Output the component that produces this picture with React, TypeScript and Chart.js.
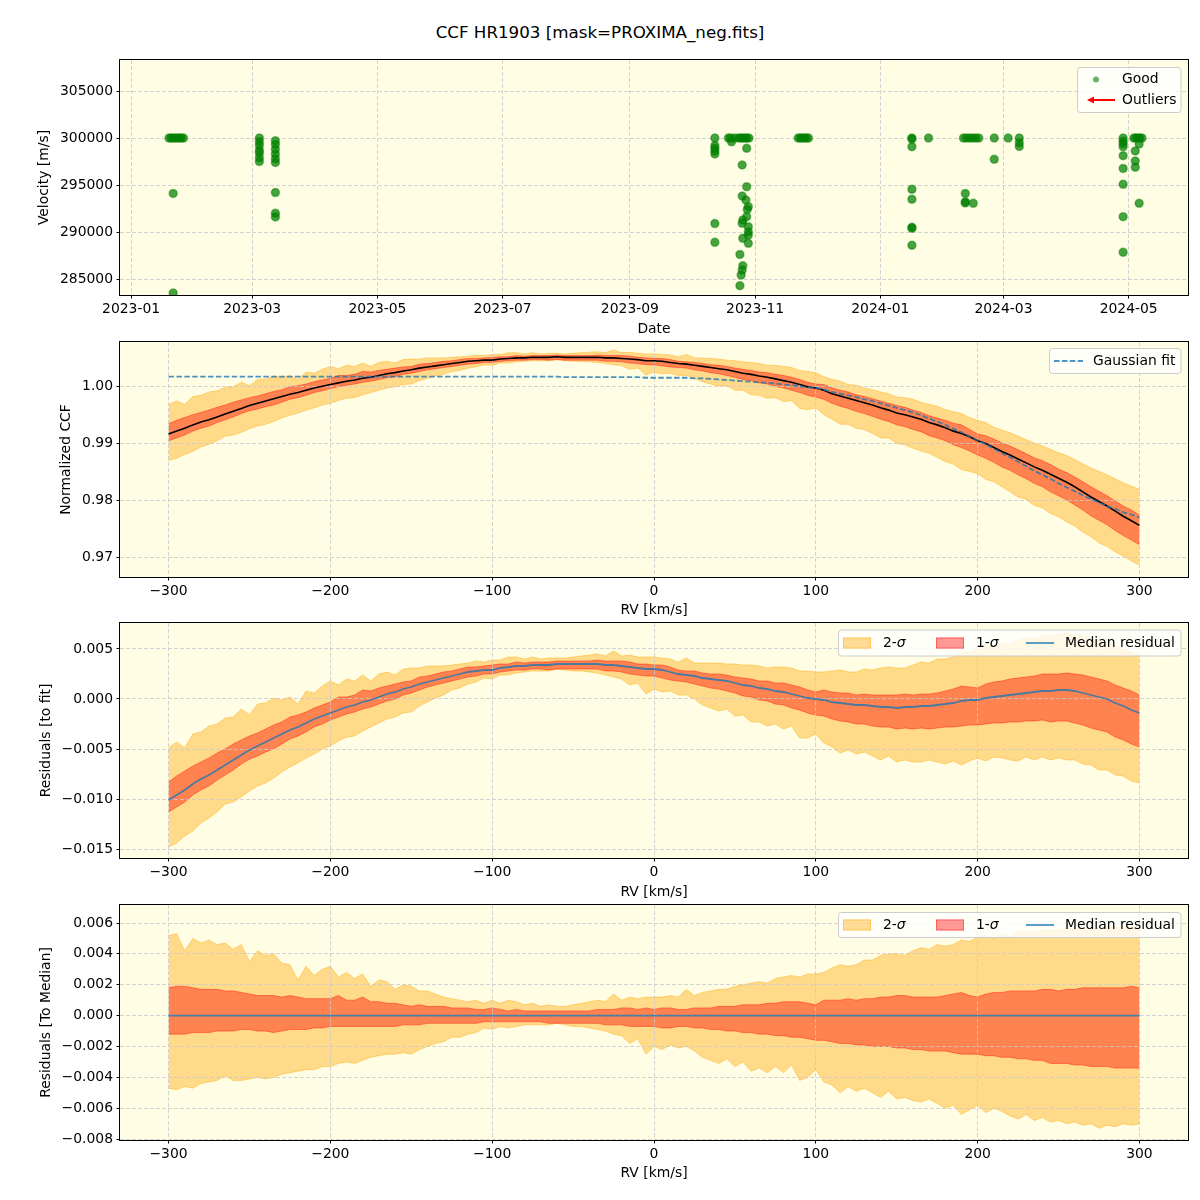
import React, { useEffect, useRef } from 'react';
import { Chart, registerables } from 'chart.js';
Chart.register(...registerables);

const FONT_FAMILY = "'DejaVu Sans', sans-serif";
const FS = 13.9;
const BG = '#fffde3';
const GRID = 'rgba(200,200,205,0.8)';

// ---------- top panel: velocities ----------
const MONTH_TICKS = [0, 59, 120, 181, 243, 304, 365, 425, 486];
const MONTH_LABELS = ['2023-01', '2023-03', '2023-05', '2023-07', '2023-09', '2023-11', '2024-01', '2024-03', '2024-05'];
const VEL_TICKS = [285000, 290000, 295000, 300000, 305000];

// days since 2023-01-01
const GOOD_DAY = [
  18.5, 19.5, 20.5, 21.5, 22.5, 23.5, 24.5, 25.5, 20.5, 20.5,
  62.5, 62.5, 62.5, 62.5, 62.5, 62.5, 62.5,
  70.3, 70.3, 70.3, 70.3, 70.3, 70.3, 70.3, 70.3, 70.3,
  284.4, 284.4, 284.4, 284.4, 284.4, 284.4, 284.4,
  291, 292, 294, 296, 297, 298, 299, 300, 301, 292.5,
  299.9, 297.7, 299.9, 297.7, 299.5, 300.7, 300.2, 299.9, 298, 297.7,
  300.7, 300.7, 300.7, 298, 300.7, 296.6, 298, 297.7, 297.2, 296.6,
  325, 326, 327, 328, 329, 330,
  380.4, 380.4, 380.4, 380.4, 380.4, 380.4, 380.4, 380.4,
  388.5,
  405.5, 407, 408.5, 410, 411.5, 413, 406.4, 406.4, 406.4, 410.3,
  420.5, 420.5, 427.3, 432.7, 432.7, 432.7,
  483.3, 483.3, 483.3, 483.3, 483.3, 483.3, 483.3, 483.3, 483.3,
  488.5, 489.5, 490.5, 491.5, 492.5,
  491.1, 489.2, 489.2, 489.2, 491.1,
];
const GOOD_VEL = [
  300000, 300000, 300000, 300000, 300000, 300000, 300000, 300000, 294100, 283500,
  300000, 299600, 299200, 298700, 298400, 297900, 297500,
  299700, 299300, 298800, 298300, 297800, 297400, 294200, 292000, 291600,
  300000, 299200, 298900, 298600, 298300, 290900, 288900,
  300000, 300000, 300000, 300000, 300000, 300000, 300000, 300000, 300000, 299600,
  298900, 297130, 294820, 293830, 293400, 292700, 292400, 291630, 291270, 290920,
  290560, 290030, 289680, 289330, 288800, 287620, 286410, 285950, 285420, 284290,
  300000, 300000, 300000, 300000, 300000, 300000,
  300000, 299900, 299080, 294540, 293480, 290500, 290390, 288580,
  300000,
  300000, 300000, 300000, 300000, 300000, 300000, 294100, 293220, 293100, 293050,
  300000, 297730, 300000, 300000, 299500, 299100,
  300000, 299650, 299400, 299080, 298120, 296770, 295070, 291630, 287840,
  300000, 300000, 300000, 300000, 300000,
  299360, 298620, 297550, 296880, 293050,
];

// ---------- CCF panels ----------
const RV_TICKS = [-300, -200, -100, 0, 100, 200, 300];
const CCF_TICKS = [0.97, 0.98, 0.99, 1.0];
const RES_TICKS = [-0.015, -0.01, -0.005, 0.0, 0.005];
const MED_TICKS = [-0.008, -0.006, -0.004, -0.002, 0.0, 0.002, 0.004, 0.006];

const RV = [
  -300, -295, -290, -285, -280, -275, -270, -265, -260, -255,
  -250, -245, -240, -235, -230, -225, -220, -215, -210, -205,
  -200, -195, -190, -185, -180, -175, -170, -165, -160, -155,
  -150, -145, -140, -135, -130, -125, -120, -115, -110, -105,
  -100, -95, -90, -85, -80, -75, -70, -65, -60, -55,
  -50, -45, -40, -35, -30, -25, -20, -15, -10, -5,
  0, 5, 10, 15, 20, 25, 30, 35, 40, 45,
  50, 55, 60, 65, 70, 75, 80, 85, 90, 95,
  100, 105, 110, 115, 120, 125, 130, 135, 140, 145,
  150, 155, 160, 165, 170, 175, 180, 185, 190, 195,
  200, 205, 210, 215, 220, 225, 230, 235, 240, 245,
  250, 255, 260, 265, 270, 275, 280, 285, 290, 295,
  300,
];

const CCF_MEDIAN = [
  0.9917, 0.9922, 0.9927, 0.9933, 0.9938, 0.9942, 0.9947, 0.9952, 0.9957, 0.9962,
  0.9967, 0.9971, 0.9975, 0.9979, 0.9983, 0.9987, 0.999, 0.9994, 0.9998, 1.0001,
  1.0004, 1.0007, 1.001, 1.0012, 1.0015, 1.0017, 1.002, 1.0023, 1.0025, 1.0028,
  1.003, 1.0033, 1.0035, 1.0037, 1.0039, 1.0041, 1.0043, 1.0045, 1.0046, 1.0047,
  1.0047, 1.0049, 1.005, 1.0051, 1.0051, 1.0052, 1.0052, 1.0052, 1.0053, 1.0052,
  1.0052, 1.0052, 1.0052, 1.0052, 1.0051, 1.0051, 1.005, 1.0049, 1.0048, 1.0046,
  1.0046, 1.0045, 1.0043, 1.0041, 1.004, 1.0038, 1.0036, 1.0034, 1.0032, 1.003,
  1.0027, 1.0024, 1.0022, 1.0019, 1.0017, 1.0014, 1.0011, 1.0008, 1.0004, 1.0,
  0.9998, 0.9994, 0.9988, 0.9984, 0.998, 0.9976, 0.9972, 0.9968, 0.9963, 0.9959,
  0.9954, 0.9951, 0.9947, 0.9943, 0.9937, 0.9933, 0.9928, 0.9922, 0.9918, 0.9912,
  0.9905, 0.99, 0.9893, 0.9886, 0.988, 0.9873, 0.9866, 0.9859, 0.9853, 0.9846,
  0.9839, 0.9832, 0.9824, 0.9815, 0.9806, 0.9798, 0.979, 0.9781, 0.9772, 0.9764,
  0.9756,
];

const GAUSS_FIT = [
  1.0018, 1.0018, 1.0018, 1.0018, 1.0018, 1.0018, 1.0018, 1.0018, 1.0018, 1.0018,
  1.0018, 1.0018, 1.0018, 1.0018, 1.0018, 1.0018, 1.0018, 1.0018, 1.0018, 1.0018,
  1.0018, 1.0018, 1.0018, 1.0018, 1.0018, 1.0018, 1.0018, 1.0018, 1.0018, 1.0018,
  1.0018, 1.0018, 1.0018, 1.0018, 1.0018, 1.0018, 1.0018, 1.0018, 1.0018, 1.0018,
  1.0018, 1.0018, 1.0018, 1.0018, 1.0018, 1.0018, 1.0018, 1.0018, 1.0018, 1.0017,
  1.0017, 1.0017, 1.0017, 1.0017, 1.0017, 1.0017, 1.0017, 1.0017, 1.0017, 1.0016,
  1.0016, 1.0016, 1.0016, 1.0016, 1.0016, 1.0015, 1.0015, 1.0014, 1.0013, 1.0012,
  1.0011, 1.001, 1.0009, 1.0008, 1.0007, 1.0006, 1.0004, 1.0003, 1.0001, 0.9999,
  0.9998, 0.9995, 0.9991, 0.9988, 0.9985, 0.9982, 0.9978, 0.9975, 0.9971, 0.9967,
  0.9963, 0.9959, 0.9955, 0.995, 0.9944, 0.9939, 0.9933, 0.9926, 0.992, 0.9913,
  0.9906, 0.9899, 0.9891, 0.9883, 0.9876, 0.9868, 0.986, 0.9852, 0.9845, 0.9838,
  0.983, 0.9823, 0.9816, 0.9809, 0.9802, 0.9796, 0.979, 0.9785, 0.9779, 0.9775,
  0.977,
];

const RESID_MEDIAN = [
  -0.0101, -0.0096, -0.0091, -0.0085, -0.008, -0.0076, -0.0071, -0.0066, -0.0061, -0.0056,
  -0.0051, -0.0047, -0.0043, -0.0039, -0.0035, -0.0031, -0.0028, -0.0024, -0.002, -0.0017,
  -0.0014, -0.0011, -0.0008, -0.0006, -0.0003, -0.0001, 0.0002, 0.0005, 0.0007, 0.001,
  0.0012, 0.0015, 0.0017, 0.0019, 0.0021, 0.0023, 0.0025, 0.0027, 0.0028, 0.0029,
  0.0029, 0.0031, 0.0032, 0.0033, 0.0033, 0.0034, 0.0034, 0.0034, 0.0035, 0.0035,
  0.0035, 0.0035, 0.0035, 0.0035, 0.0034, 0.0034, 0.0033, 0.0032, 0.0031, 0.003,
  0.003, 0.0029, 0.0027, 0.0025, 0.0024, 0.0023, 0.0021, 0.002, 0.0019, 0.0018,
  0.0016, 0.0014, 0.0013, 0.0011, 0.001, 0.0008, 0.0007, 0.0005, 0.0003, 0.0001,
  0.0, -0.0001, -0.0003, -0.0004, -0.0005, -0.0006, -0.0006, -0.0007, -0.0008, -0.0008,
  -0.0009, -0.0008, -0.0008, -0.0007, -0.0007, -0.0006, -0.0005, -0.0004, -0.0002, -0.0001,
  -0.0001, 0.0001, 0.0002, 0.0003, 0.0004, 0.0005, 0.0006, 0.0007, 0.0008, 0.0008,
  0.0009, 0.0009, 0.0008, 0.0006, 0.0004, 0.0002, 0.0, -0.0004, -0.0007, -0.0011,
  -0.0014,
];

// band edges relative to the median
const SIG2_HI = [
  0.0052, 0.0053, 0.0042, 0.005, 0.0047, 0.0049, 0.0046, 0.0047, 0.0043, 0.0046,
  0.0035, 0.0042, 0.0039, 0.004, 0.0034, 0.0033, 0.0023, 0.0032, 0.0026, 0.003,
  0.0032, 0.0025, 0.0028, 0.0024, 0.0027, 0.0019, 0.0023, 0.0022, 0.0017, 0.002,
  0.0019, 0.0016, 0.0016, 0.0014, 0.0012, 0.0011, 0.001, 0.0009, 0.001, 0.0008,
  0.001, 0.0008, 0.001, 0.0009, 0.0007, 0.0008, 0.0006, 0.0007, 0.0006, 0.0006,
  0.0007, 0.0008, 0.0009, 0.001, 0.0009, 0.0014, 0.001, 0.0012, 0.0011, 0.0012,
  0.0012, 0.0012, 0.0013, 0.0012, 0.0017, 0.0013, 0.0015, 0.0016, 0.0017, 0.0017,
  0.0019, 0.002, 0.0021, 0.0022, 0.0021, 0.0024, 0.0025, 0.0026, 0.0025, 0.0027,
  0.0027, 0.0028, 0.0031, 0.0033, 0.0032, 0.0033, 0.0036, 0.0036, 0.0039, 0.004,
  0.004, 0.0039, 0.0042, 0.0044, 0.0043, 0.0046, 0.0045, 0.0046, 0.0049, 0.0048,
  0.0051, 0.0052, 0.005, 0.0053, 0.0051, 0.0054, 0.0055, 0.0054, 0.0055, 0.0056,
  0.0055, 0.0057, 0.0056, 0.0057, 0.0056, 0.0057, 0.0058, 0.0057, 0.0058, 0.0057,
  0.0058,
];
const SIG1_HI = [
  0.0018, 0.0019, 0.0019, 0.0018, 0.0017, 0.0017, 0.0017, 0.0016, 0.0016, 0.0015,
  0.0014, 0.0013, 0.0013, 0.0013, 0.0012, 0.0013, 0.0012, 0.0011, 0.0011, 0.0011,
  0.0011, 0.0013, 0.001, 0.001, 0.0012, 0.0009, 0.0009, 0.0008, 0.0008, 0.0007,
  0.0006, 0.0007, 0.0006, 0.0006, 0.0006, 0.0005, 0.0005, 0.0005, 0.0004, 0.0004,
  0.0005, 0.0004, 0.0003, 0.0004, 0.0003, 0.0003, 0.0003, 0.0003, 0.0003, 0.0003,
  0.0003, 0.0003, 0.0003, 0.0004, 0.0004, 0.0004, 0.0005, 0.0005, 0.0004, 0.0005,
  0.0004, 0.0005, 0.0005, 0.0004, 0.0004, 0.0005, 0.0005, 0.0005, 0.0006, 0.0006,
  0.0006, 0.0007, 0.0007, 0.0007, 0.0008, 0.0008, 0.0009, 0.0009, 0.0009, 0.0008,
  0.0007, 0.001, 0.001, 0.001, 0.0011, 0.001, 0.0011, 0.0011, 0.0012, 0.0012,
  0.0013, 0.0013, 0.0012, 0.0012, 0.0012, 0.0012, 0.0013, 0.0014, 0.0015, 0.0013,
  0.0012, 0.0014, 0.0015, 0.0015, 0.0016, 0.0016, 0.0016, 0.0016, 0.0017, 0.0017,
  0.0016, 0.0017, 0.0017, 0.0018, 0.0018, 0.0018, 0.0018, 0.0018, 0.0018, 0.0019,
  0.0018,
];
const SIG1_LO = [
  -0.0012, -0.0012, -0.0012, -0.0011, -0.0011, -0.0011, -0.001, -0.001, -0.001, -0.0009,
  -0.0009, -0.001, -0.001, -0.0011, -0.001, -0.0009, -0.0009, -0.0009, -0.0008, -0.0008,
  -0.0007, -0.0007, -0.0007, -0.0007, -0.0007, -0.0007, -0.0007, -0.0007, -0.0007, -0.0006,
  -0.0006, -0.0006, -0.0005, -0.0005, -0.0005, -0.0005, -0.0005, -0.0005, -0.0005, -0.0004,
  -0.0004, -0.0004, -0.0004, -0.0004, -0.0004, -0.0004, -0.0004, -0.0005, -0.0005, -0.0005,
  -0.0005, -0.0005, -0.0005, -0.0005, -0.0006, -0.0006, -0.0006, -0.0007, -0.0007, -0.0007,
  -0.0007, -0.0008, -0.0008, -0.0007, -0.0007, -0.0008, -0.0008, -0.0009, -0.0009, -0.001,
  -0.001, -0.0011, -0.0011, -0.0012, -0.0012, -0.0013, -0.0013, -0.0014, -0.0014, -0.0015,
  -0.0016, -0.0016, -0.0017, -0.0018, -0.0018, -0.0019, -0.0019, -0.002, -0.002, -0.002,
  -0.0021, -0.0021, -0.0022, -0.0022, -0.0023, -0.0023, -0.0023, -0.0024, -0.0025, -0.0025,
  -0.0025, -0.0026, -0.0026, -0.0027, -0.0027, -0.0028, -0.0028, -0.0029, -0.0029, -0.0031,
  -0.0031, -0.0031, -0.0032, -0.0032, -0.0033, -0.0033, -0.0033, -0.0034, -0.0034, -0.0034,
  -0.0034,
];
const SIG2_LO = [
  -0.0047, -0.0048, -0.0046, -0.0047, -0.0044, -0.0043, -0.0042, -0.0039, -0.0042, -0.0042,
  -0.0041, -0.004, -0.0041, -0.004, -0.0038, -0.0037, -0.0036, -0.0035, -0.0035, -0.0033,
  -0.0033, -0.0031, -0.003, -0.0031, -0.0029, -0.0027, -0.0026, -0.0025, -0.0025, -0.0024,
  -0.0025, -0.0022, -0.002, -0.0018, -0.0017, -0.0014, -0.0014, -0.0012, -0.0011, -0.0008,
  -0.0009, -0.0007, -0.0008, -0.0007, -0.0006, -0.0006, -0.0006, -0.0006, -0.0005, -0.0006,
  -0.0007, -0.0007, -0.0008, -0.0009, -0.001, -0.0012, -0.0013, -0.0018, -0.0015, -0.0025,
  -0.002, -0.0022, -0.0019, -0.0021, -0.002, -0.0023, -0.0027, -0.0029, -0.0031, -0.0028,
  -0.0033, -0.003, -0.0036, -0.0034, -0.0037, -0.0033, -0.0037, -0.0032, -0.0042, -0.004,
  -0.0035, -0.0043, -0.0045, -0.005, -0.0046, -0.0049, -0.0047, -0.005, -0.0053, -0.0049,
  -0.0054, -0.0053, -0.0055, -0.0056, -0.0054, -0.0057, -0.006, -0.0058, -0.0064, -0.0061,
  -0.0058, -0.0063, -0.006, -0.0062, -0.0065, -0.0067, -0.0064, -0.0068, -0.0066, -0.0069,
  -0.0068, -0.007, -0.0069, -0.0071, -0.007, -0.0073, -0.0071, -0.0072, -0.007, -0.0071,
  -0.007,
];
// upper 2-sigma edge of the CCF panel, relative to the CCF median
const CCF_SIG2_HI = [
  0.0052, 0.0053, 0.0042, 0.005, 0.0047, 0.0049, 0.0046, 0.0047, 0.0043, 0.0046,
  0.0035, 0.0042, 0.0039, 0.004, 0.0034, 0.0033, 0.0023, 0.0032, 0.0026, 0.003,
  0.0032, 0.0025, 0.0028, 0.0024, 0.0027, 0.0019, 0.0023, 0.0022, 0.0017, 0.002,
  0.0019, 0.0016, 0.0016, 0.0014, 0.0012, 0.0011, 0.001, 0.0009, 0.001, 0.0008,
  0.001, 0.0008, 0.001, 0.0009, 0.0007, 0.0008, 0.0006, 0.0007, 0.0006, 0.0006,
  0.0007, 0.0008, 0.0009, 0.001, 0.0009, 0.0014, 0.001, 0.0012, 0.0011, 0.0012,
  0.0012, 0.0012, 0.0013, 0.0012, 0.0017, 0.0013, 0.0015, 0.0016, 0.0017, 0.0017,
  0.0019, 0.002, 0.0021, 0.0022, 0.0021, 0.0024, 0.0025, 0.0026, 0.0025, 0.0027,
  0.0027, 0.0024, 0.0025, 0.0026, 0.0024, 0.0027, 0.0026, 0.0027, 0.0028, 0.0029,
  0.0028, 0.003, 0.0031, 0.003, 0.0032, 0.0033, 0.0032, 0.0034, 0.0035, 0.0034,
  0.0036, 0.0037, 0.0036, 0.0038, 0.0039, 0.004, 0.0041, 0.0042, 0.0043, 0.0044,
  0.0045, 0.0047, 0.0048, 0.0049, 0.0051, 0.0053, 0.0055, 0.0057, 0.0059, 0.0061,
  0.0063,
];
// median of residuals to the median (flat at zero)
const ZERO_RV = [-300, 300];
const ZERO_VAL = [0, 0];

// ---------- helpers ----------
const pts = (xs: number[], ys: number[]) => xs.map((x, i) => ({ x, y: ys[i] }));
const addArr = (a: number[], b: number[]) => a.map((v, i) => v + b[i]);
const signed = (v: number, d: number) => (v < -1e-12 ? '\u2212' : '') + Math.abs(v).toFixed(d);

const C_2S = 'rgba(255,165,0,0.4)';
const C_1S = 'rgba(255,0,0,0.4)';
const C_BLUE = 'rgba(31,119,180,0.8)';

type LegendItem = {
  kind: 'dot' | 'arrow' | 'dash' | 'line' | 'patch';
  color: string;
  x0: number;
  x1: number;
  y: number;
  text: string;
  tx: number;
  sigma?: boolean;
};
type LegendSpec = { box: [number, number, number, number]; items: LegendItem[] };

function roundRect(ctx: CanvasRenderingContext2D, x: number, y: number, w: number, h: number, r: number) {
  ctx.beginPath();
  ctx.moveTo(x + r, y);
  ctx.lineTo(x + w - r, y);
  ctx.arcTo(x + w, y, x + w, y + r, r);
  ctx.lineTo(x + w, y + h - r);
  ctx.arcTo(x + w, y + h, x + w - r, y + h, r);
  ctx.lineTo(x + r, y + h);
  ctx.arcTo(x, y + h, x, y + h - r, r);
  ctx.lineTo(x, y + r);
  ctx.arcTo(x, y, x + r, y, r);
  ctx.closePath();
}

function drawLegend(ctx: CanvasRenderingContext2D, top: number, spec: LegendSpec) {
  const [bx0, by0, bx1, by1] = spec.box;
  ctx.save();
  roundRect(ctx, bx0, by0 - top, bx1 - bx0, by1 - by0, 3);
  ctx.fillStyle = 'rgba(255,255,255,0.8)';
  ctx.fill();
  ctx.strokeStyle = '#cccccc';
  ctx.lineWidth = 1;
  ctx.stroke();
  for (const it of spec.items) {
    const y = it.y - top;
    ctx.setLineDash([]);
    if (it.kind === 'dot') {
      ctx.beginPath();
      ctx.arc(it.x0, y, 3, 0, Math.PI * 2);
      ctx.fillStyle = it.color;
      ctx.fill();
    } else if (it.kind === 'arrow') {
      ctx.strokeStyle = it.color;
      ctx.lineWidth = 2;
      ctx.beginPath();
      ctx.moveTo(it.x1, y);
      ctx.lineTo(it.x0 + 5, y);
      ctx.stroke();
      ctx.beginPath();
      ctx.moveTo(it.x0, y);
      ctx.lineTo(it.x0 + 7, y - 3.5);
      ctx.lineTo(it.x0 + 7, y + 3.5);
      ctx.closePath();
      ctx.fillStyle = it.color;
      ctx.fill();
    } else if (it.kind === 'dash' || it.kind === 'line') {
      ctx.strokeStyle = it.color;
      ctx.lineWidth = 1.8;
      if (it.kind === 'dash') ctx.setLineDash([5.5, 2.4]);
      ctx.beginPath();
      ctx.moveTo(it.x0, y);
      ctx.lineTo(it.x1, y);
      ctx.stroke();
      ctx.setLineDash([]);
    } else if (it.kind === 'patch') {
      ctx.fillStyle = it.color;
      ctx.fillRect(it.x0, y - 5.5, it.x1 - it.x0, 11);
      ctx.strokeStyle = it.color;
      ctx.lineWidth = 1;
      ctx.strokeRect(it.x0 + 0.5, y - 5, it.x1 - it.x0 - 1, 10);
    }
    ctx.fillStyle = '#000';
    ctx.textBaseline = 'middle';
    ctx.textAlign = 'left';
    ctx.font = `${FS}px ${FONT_FAMILY}`;
    ctx.fillText(it.text, it.tx, y);
    if (it.sigma) {
      const w = ctx.measureText(it.text).width;
      ctx.font = `italic ${FS}px ${FONT_FAMILY}`;
      ctx.fillText('\u03c3', it.tx + w, y);
    }
  }
  ctx.restore();
}

// background, top lines drawn above the grid (once), axes frame and legend
function framePlugin(top: number, legend: LegendSpec, topLines: number[]) {
  return {
    id: 'frameLegend',
    beforeDraw(chart: any) {
      const { ctx, chartArea: a } = chart;
      ctx.save();
      ctx.fillStyle = BG;
      ctx.fillRect(a.left, a.top, a.right - a.left, a.bottom - a.top);
      ctx.restore();
    },
    beforeDatasetDraw(_chart: any, args: any) {
      if (topLines.includes(args.index)) return false;
      return true;
    },
    afterDraw(chart: any) {
      const { ctx, chartArea: a } = chart;
      for (const idx of topLines) {
        const meta = chart.getDatasetMeta(idx);
        ctx.save();
        ctx.beginPath();
        ctx.rect(a.left, a.top, a.right - a.left, a.bottom - a.top);
        ctx.clip();
        meta.dataset.draw(ctx, a);
        ctx.restore();
      }
      ctx.save();
      ctx.strokeStyle = '#000';
      ctx.lineWidth = 1;
      ctx.setLineDash([]);
      ctx.strokeRect(a.left - 0.5, a.top - 0.5, a.right - a.left + 1, a.bottom - a.top + 1);
      ctx.restore();
      drawLegend(ctx, top, legend);
    },
  };
}

type PanelCfg = {
  xMin: number; xMax: number; xTicks: number[]; xFmt: (v: number) => string; xTitle: string;
  yMin: number; yMax: number; yTicks: number[]; yFmt: (v: number) => string; yTitle: string; yTitlePad: number;
  padTop: number; padBottom: number; axisH: number; gridZ: number;
};

function makeOptions(p: PanelCfg) {
  const font = { family: FONT_FAMILY, size: FS };
  const grid = {
    color: GRID, lineWidth: 1, tickColor: '#000', tickLength: 3.5, tickWidth: 1, drawTicks: true, z: p.gridZ,
  };
  return {
    responsive: false,
    animation: false,
    devicePixelRatio: 1,
    layout: { padding: { left: 0, right: 12, top: p.padTop, bottom: p.padBottom } },
    plugins: { legend: { display: false }, tooltip: { enabled: false }, title: { display: false } },
    elements: { point: { radius: 0 }, line: { tension: 0 } },
    scales: {
      x: {
        type: 'linear',
        min: p.xMin,
        max: p.xMax,
        afterBuildTicks: (s: any) => { s.ticks = p.xTicks.map((v) => ({ value: v })); },
        afterFit: (s: any) => { s.height = p.axisH; s.paddingLeft = 0; s.paddingRight = 0; },
        ticks: { callback: (v: any) => p.xFmt(Number(v)), font, color: '#000', padding: 3, maxRotation: 0, autoSkip: false },
        grid,
        border: { display: false, dash: [4, 2] },
        title: { display: true, text: p.xTitle, font, color: '#000', padding: 0 },
      },
      y: {
        type: 'linear',
        min: p.yMin,
        max: p.yMax,
        afterBuildTicks: (s: any) => { s.ticks = p.yTicks.map((v) => ({ value: v })); },
        afterFit: (s: any) => { s.width = 120; s.paddingTop = 0; s.paddingBottom = 0; },
        ticks: { callback: (v: any) => p.yFmt(Number(v)), font, color: '#000', padding: 3.5, autoSkip: false },
        grid,
        border: { display: false, dash: [4, 2] },
        title: { display: true, text: p.yTitle, font, color: '#000', padding: { top: p.yTitlePad, bottom: 0 } },
      },
    },
  };
}

function bandDatasets(hi2: number[], lo2: number[], hi1: number[], lo1: number[]) {
  return [
    { data: pts(RV, hi2), borderColor: C_2S, backgroundColor: C_2S, borderWidth: 1, fill: '+1', order: 10, pointRadius: 0 },
    { data: pts(RV, lo2), borderColor: C_2S, backgroundColor: C_2S, borderWidth: 1, fill: false, order: 9, pointRadius: 0 },
    { data: pts(RV, hi1), borderColor: C_1S, backgroundColor: C_1S, borderWidth: 1, fill: '+1', order: 8, pointRadius: 0 },
    { data: pts(RV, lo1), borderColor: C_1S, backgroundColor: C_1S, borderWidth: 1, fill: false, order: 7, pointRadius: 0 },
  ];
}

const PANELS = [
  { top: 40, height: 300 },
  { top: 340, height: 280 },
  { top: 620, height: 282 },
  { top: 902, height: 298 },
];

function sigmaLegend(yc: number, box: [number, number, number, number]): LegendSpec {
  return {
    box,
    items: [
      { kind: 'patch', color: C_2S, x0: 843, x1: 871, y: yc, text: '2-', tx: 883, sigma: true },
      { kind: 'patch', color: C_1S, x0: 936, x1: 964, y: yc, text: '1-', tx: 976, sigma: true },
      { kind: 'line', color: C_BLUE, x0: 1026, x1: 1054, y: yc, text: 'Median residual', tx: 1065 },
    ],
  };
}

export default function App() {
  const r1 = useRef<HTMLCanvasElement>(null);
  const r2 = useRef<HTMLCanvasElement>(null);
  const r3 = useRef<HTMLCanvasElement>(null);
  const r4 = useRef<HTMLCanvasElement>(null);

  useEffect(() => {
    const charts: Chart[] = [];
    const rvFmt = (v: number) => signed(v, 0);

    // Panel 1: velocity vs date
    charts.push(new Chart(r1.current as HTMLCanvasElement, {
      type: 'scatter',
      data: {
        datasets: [{
          data: pts(GOOD_DAY, GOOD_VEL),
          pointRadius: 4,
          pointBackgroundColor: 'rgba(0,128,0,0.72)',
          pointBorderColor: 'rgba(0,128,0,0.45)',
          pointBorderWidth: 1.5,
          backgroundColor: 'rgba(0,128,0,0.72)',
          borderColor: 'rgba(0,128,0,0.45)',
        }],
      },
      options: makeOptions({
        xMin: -5.4, xMax: 514.9, xTicks: MONTH_TICKS,
        xFmt: (v) => MONTH_LABELS[MONTH_TICKS.indexOf(v)] ?? '', xTitle: 'Date',
        yMin: 283300, yMax: 308300, yTicks: VEL_TICKS, yFmt: (v) => String(Math.round(v)),
        yTitle: 'Velocity [m/s]', yTitlePad: 35.7,
        padTop: 20, padBottom: 2, axisH: 43, gridZ: -1,
      }) as any,
      plugins: [framePlugin(PANELS[0].top, {
        box: [1077.5, 67.5, 1181, 112.5],
        items: [
          { kind: 'dot', color: 'rgba(0,128,0,0.6)', x0: 1096, x1: 1096, y: 79.5, text: 'Good', tx: 1122 },
          { kind: 'arrow', color: '#ff0000', x0: 1087, x1: 1115, y: 100, text: 'Outliers', tx: 1122 },
        ],
      }, [])],
    }));

    // Panel 2: normalized CCF
    charts.push(new Chart(r2.current as HTMLCanvasElement, {
      type: 'line',
      data: {
        datasets: [
          ...bandDatasets(
            addArr(CCF_MEDIAN, CCF_SIG2_HI), addArr(CCF_MEDIAN, SIG2_LO),
            addArr(CCF_MEDIAN, SIG1_HI), addArr(CCF_MEDIAN, SIG1_LO)),
          { data: pts(RV, CCF_MEDIAN), borderColor: '#000', borderWidth: 1.6, fill: false, order: 2, pointRadius: 0 },
          { data: pts(RV, GAUSS_FIT), borderColor: C_BLUE, borderWidth: 1.8, borderDash: [5.5, 2.4], fill: false, order: 1, pointRadius: 0 },
        ],
      } as any,
      options: makeOptions({
        xMin: -330, xMax: 330, xTicks: RV_TICKS, xFmt: rvFmt, xTitle: 'RV [km/s]',
        yMin: 0.9665, yMax: 1.0079, yTicks: CCF_TICKS, yFmt: (v) => signed(v, 2),
        yTitle: 'Normalized CCF', yTitlePad: 57.7,
        padTop: 2, padBottom: 1, axisH: 42, gridZ: 1,
      }) as any,
      plugins: [framePlugin(PANELS[1].top, {
        box: [1049.5, 348.5, 1181, 373.5],
        items: [
          { kind: 'dash', color: C_BLUE, x0: 1054, x1: 1083, y: 361, text: 'Gaussian fit', tx: 1093 },
        ],
      }, [4, 5])],
    }));

    // Panel 3: residuals to fit
    charts.push(new Chart(r3.current as HTMLCanvasElement, {
      type: 'line',
      data: {
        datasets: [
          ...bandDatasets(
            addArr(RESID_MEDIAN, SIG2_HI), addArr(RESID_MEDIAN, SIG2_LO),
            addArr(RESID_MEDIAN, SIG1_HI), addArr(RESID_MEDIAN, SIG1_LO)),
          { data: pts(RV, RESID_MEDIAN), borderColor: C_BLUE, borderWidth: 1.8, fill: false, order: 1, pointRadius: 0 },
        ],
      } as any,
      options: makeOptions({
        xMin: -330, xMax: 330, xTicks: RV_TICKS, xFmt: rvFmt, xTitle: 'RV [km/s]',
        yMin: -0.0159, yMax: 0.0076, yTicks: RES_TICKS, yFmt: (v) => signed(v, 3),
        yTitle: 'Residuals [to fit]', yTitlePad: 37.7,
        padTop: 3, padBottom: 1, axisH: 43, gridZ: 1,
      }) as any,
      plugins: [framePlugin(PANELS[2].top, sigmaLegend(643, [838.5, 630, 1181, 656]), [4])],
    }));

    // Panel 4: residuals to median
    charts.push(new Chart(r4.current as HTMLCanvasElement, {
      type: 'line',
      data: {
        datasets: [
          ...bandDatasets(SIG2_HI, SIG2_LO, SIG1_HI, SIG1_LO),
          { data: pts(ZERO_RV, ZERO_VAL), borderColor: C_BLUE, borderWidth: 1.8, fill: false, order: 1, pointRadius: 0 },
        ],
      } as any,
      options: makeOptions({
        xMin: -330, xMax: 330, xTicks: RV_TICKS, xFmt: rvFmt, xTitle: 'RV [km/s]',
        yMin: -0.00806, yMax: 0.007167, yTicks: MED_TICKS, yFmt: (v) => signed(v, 3),
        yTitle: 'Residuals [To Median]', yTitlePad: 37.7,
        padTop: 3, padBottom: 18, axisH: 42, gridZ: 1,
      }) as any,
      plugins: [framePlugin(PANELS[3].top, sigmaLegend(925, [838.5, 912.5, 1181, 937.5]), [4])],
    }));

    return () => { charts.forEach((c) => c.destroy()); };
  }, []);

  const refs = [r1, r2, r3, r4];
  return (
    <div style={{ position: 'absolute', left: 0, top: 0, width: 1200, height: 1200, background: '#ffffff', overflow: 'hidden' }}>
      <div style={{
        position: 'absolute', left: 0, top: 22, width: 1200, height: 20, lineHeight: '20px',
        textAlign: 'center', fontFamily: FONT_FAMILY, fontSize: 16.7, color: '#000',
      }}>
        CCF HR1903 [mask=PROXIMA_neg.fits]
      </div>
      {PANELS.map((p, i) => (
        <canvas
          key={i}
          ref={refs[i]}
          width={1200}
          height={p.height}
          style={{ position: 'absolute', left: 0, top: p.top, width: 1200, height: p.height }}
        />
      ))}
    </div>
  );
}
